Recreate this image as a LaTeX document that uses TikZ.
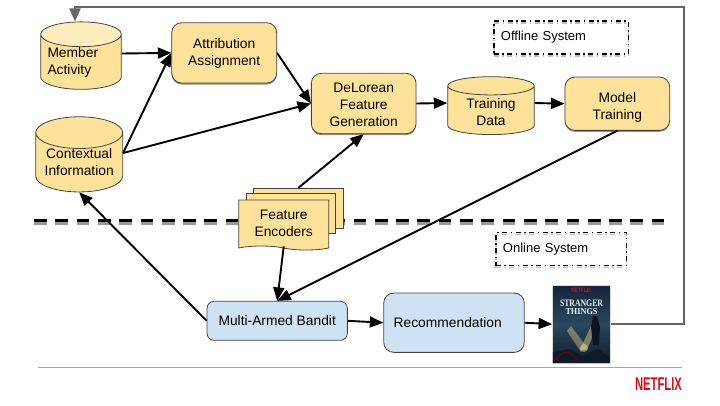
\documentclass[tikz,border=0pt]{standalone}
\usepackage{fontspec}
\usepackage{graphicx}
\setmainfont{Liberation Sans}
\newfontfamily\postfont{Liberation Serif}
\usetikzlibrary{arrows.meta,shapes.geometric,shapes.symbols,shadows}
\definecolor{boxyellow}{HTML}{FFE299}
\definecolor{boxtop}{HTML}{FFEDBD}
\definecolor{boxblue}{HTML}{CFE2F3}
\definecolor{edgegray}{HTML}{444444}
\definecolor{loopgray}{HTML}{666666}
\definecolor{nfred}{HTML}{E50914}
\definecolor{posttop}{HTML}{14243A}
\definecolor{postmid}{HTML}{2A475C}
\definecolor{postlow}{HTML}{0F1A2A}
\definecolor{beam}{HTML}{D9C98C}
\tikzset{
  basefont/.style={font=\fontsize{13.8}{17}\selectfont,text=black},
  yellowbox/.style={basefont,rectangle,rounded corners=10pt,draw=edgegray,line width=.8pt,fill=boxyellow,
    inner sep=0pt,align=center,drop shadow={shadow xshift=0pt,shadow yshift=-1.5pt,opacity=.45,fill=black}},
  bluebox/.style={basefont,rectangle,draw=edgegray,line width=.8pt,fill=boxblue,inner sep=0pt},
  cyl/.style={basefont,cylinder,shape border rotate=90,draw=edgegray,line width=.8pt,inner sep=0pt,align=center,
    cylinder uses custom fill,cylinder body fill=boxyellow,cylinder end fill=boxyellow},
  sheet/.style={basefont,tape,tape bend top=none,draw=edgegray,line width=.8pt,fill=boxyellow,inner sep=0pt,align=center},
  tagbox/.style={rectangle,draw=black,line width=1.1pt,dash pattern=on 5pt off 3.5pt on 1.5pt off 3.5pt,
    inner sep=0pt,font=\fontsize{13}{15}\selectfont,align=left,
    preaction={draw=black!25,transform canvas={yshift=-2pt}}},
  flow/.style={draw=black,line width=1.9pt,-{Triangle[length=13.5pt,width=11pt]}},
  loopline/.style={draw=loopgray,line width=2pt,-{Triangle[length=13pt,width=11pt]}},
  divider/.style={line width=2.8pt,dash pattern=on 12.7pt off 8.6pt},
}
\begin{document}
\begin{tikzpicture}[x=1pt,y=-1pt]
\useasboundingbox (0,0) rectangle (720,405);

% divider
\coordinate (dl) at (34,220.6);
\coordinate (dr) at (668,220.6);
\draw[divider,draw=black!40] ([yshift=-2.6pt]dl) -- ([yshift=-2.6pt]dr);
\draw[divider,draw=black] (dl) -- (dr);

% footer
\coordinate (fl) at (38,367.3);
\coordinate (fr) at (682,367.3);
\draw[draw=black!35,line width=.8pt] (fl) -- (fr);
\node[text=nfred,inner sep=0pt] (logo) at (658.5,384.3) {\resizebox{47pt}{12.7pt}{\bfseries NETFLIX}};

% tags
\node[tagbox,minimum width=134.7pt,minimum height=33pt,text width=120.7pt] (offline) at (561.3,37.5) {Offline System};
\node[tagbox,minimum width=130.7pt,minimum height=33.4pt,text width=116.7pt] (online) at (561.3,249) {Online System};

% stores
\node[cyl,minimum width=80.6pt,minimum height=59.3pt,aspect=.37,cylinder end fill=boxtop,text width=67pt,align=left] (member) at (81,62) {Member\\Activity};
\node[cyl,minimum width=87pt,minimum height=73.6pt,aspect=.46] (context) at (79.2,162.5) {Contextual\\Information};
\node[cyl,minimum width=86.6pt,minimum height=50.3pt,aspect=.37] (train) at (491,110.4) {\rule{0pt}{13pt}Training\\Data};

% process boxes
\node[yellowbox,minimum width=105pt,minimum height=60.3pt] (attr) at (224.2,52.9) {\rule{0pt}{12pt}Attribution\\Assignment};
\node[yellowbox,minimum width=104.7pt,minimum height=60.4pt] (delorean) at (363.7,103.5) {\rule{0pt}{12pt}DeLorean\\Feature\\Generation};
\node[yellowbox,minimum width=104.7pt,minimum height=53.3pt] (model) at (617.3,103.7) {\rule{0pt}{18pt}Model\\Training};

% feature encoder stack
\node[sheet,minimum width=90pt,minimum height=40pt,tape bend height=0pt,tape bend bottom=none] (sheetback) at (298.3,208.3) {};
\node[sheet,minimum width=89.3pt,minimum height=40pt,tape bend height=0pt,tape bend bottom=none] (sheetmid) at (290.6,213.4) {};
\node[sheet,minimum width=90pt,minimum height=50pt,tape bend height=4pt,tape bend bottom=out and in] (encoders) at (283.7,223) {Feature\\Encoders};

% online boxes
\node[bluebox,rounded corners=7pt,minimum width=140.3pt,minimum height=39pt] (bandit) at (277.2,320.8) {Multi-Armed Bandit};
\node[bluebox,rounded corners=10pt,minimum width=140.6pt,minimum height=59.3pt,text width=120.6pt,align=left] (rec) at (454,322.7) {Recommendation};

% poster
\node[rectangle,minimum width=58pt,minimum height=78.3pt,inner sep=0pt,draw=black!15,line width=.4pt,
  top color=posttop,bottom color=postlow,middle color=postmid] (poster) at (581.3,324.2) {};
\fill[beam,opacity=.45] (567,331) -- (571,326) -- (587,347) -- (581,352) -- cycle;
\fill[beam,opacity=.5] (591,326) -- (596,328) -- (587,350) -- (580,350) -- cycle;
\fill[beam,opacity=.5] (584,348) circle (4pt);
\fill[postlow!80!black] (593,316) -- (597,316) -- (600,327) -- (599,345) -- (593,345) -- (591,327) -- cycle;
\fill[postlow] (552.8,363) -- (552.8,352) -- (570,349) -- (583,356) -- (598,349) -- (609.8,358) -- (609.8,363) -- cycle;
\draw[red!50!black,line width=.7pt] (556,360) .. controls (562,349) and (570,350) .. (577,360);
\node[inner sep=0pt,text=white!90!cyan] (ptitle) at (581.5,303.5) {\resizebox{43pt}{6.5pt}{\postfont\bfseries STRANGER}};
\node[inner sep=0pt,text=white!90!cyan] (psub) at (581.5,312) {\resizebox{32pt}{6pt}{\postfont\bfseries THINGS}};
\node[inner sep=0pt,text=nfred] (pbrand) at (581.3,290) {\resizebox{20pt}{4.5pt}{\bfseries NETFLIX}};

% connectors
\draw[flow] ([yshift=8.5pt]member.east) -- (attr.west);
\draw[flow] ([yshift=9.5pt]context.east) -- (attr.west);
\draw[flow] ([yshift=9.5pt]context.east) -- (delorean.west);
\draw[flow] (attr.east) -- (delorean.west);
\draw[flow] (delorean.east) -- ([yshift=7.4pt]train.west);
\draw[flow] ([yshift=7.4pt]train.east) -- (model.west);
\draw[flow] (sheetback.north) -- (delorean.south);
\draw[flow] (encoders.south) -- (bandit.north);
\draw[flow] (model.south) -- (bandit.north);
\draw[flow] (bandit.west) -- (context.south);
\draw[flow] (bandit.east) -- (rec.west);
\draw[flow] (rec.east) -- (poster.west);
\coordinate (turn1) at (683.7,326.3);
\coordinate (turn2) at (683.7,7.3);
\coordinate (turn3) at (75,7.3);
\draw[loopline] (poster.east) -- (poster.east -| turn1) -- (turn2) -- (turn3) -- (turn3 |- member.north);
\end{tikzpicture}
\end{document}
